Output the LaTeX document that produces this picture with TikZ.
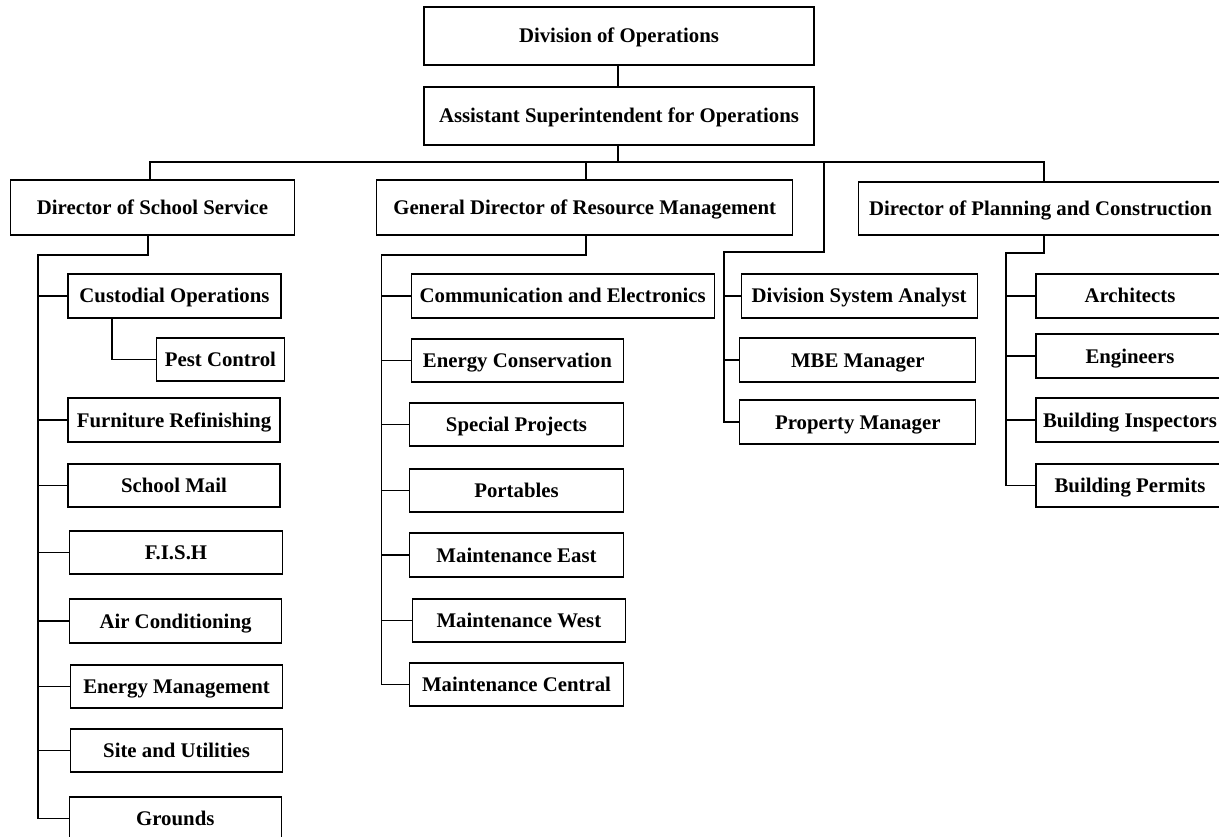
\documentclass[tikz,border=0pt]{standalone}
\usepackage{fontspec}
\setmainfont{Liberation Serif}
\begin{document}
\begin{tikzpicture}[x=1pt,y=-1pt,
  unit/.style={draw=black, line width=1.1pt, fill=white, inner sep=0pt,
    font=\bfseries\fontsize{20.8}{24}\selectfont,
    text height=14pt, text depth=0pt,
    minimum height=44pt},
  link/.style={draw=black, line width=1.6pt, line join=miter}]

\useasboundingbox (0,0) rectangle (1219,837);
\clip (0,0) rectangle (1219,837);

% top of the chart
\node[unit, minimum width=390pt, minimum height=58pt] (div)  at (619,36)  {Division of Operations};
\node[unit, minimum width=390pt, minimum height=58pt] (asst) at (619,116) {Assistant Superintendent for Operations};

% directors
\node[unit, minimum width=284pt, minimum height=55pt] (dss)  at (152.5,207.5) {Director of School Service};
\node[unit, minimum width=416pt, minimum height=55pt] (gdrm) at (584.7,207.5) {General Director of Resource Management};
\node[unit, minimum width=364pt, minimum height=53pt] (dpc)  at (1040.5,208.5) {Director of Planning and Construction};

% school service units
\node[unit, minimum width=213pt] (cust) at (174.5,296) {Custodial Operations};
\node[unit, minimum width=128pt, minimum height=43pt] (pest) at (220.4,359.5) {Pest Control};
\node[unit, minimum width=212pt] (furn) at (174,420) {Furniture Refinishing};
\node[unit, minimum width=212pt, minimum height=43pt] (mail) at (174,485.5) {School Mail};
\node[unit, minimum width=213pt, minimum height=43pt] (fish) at (176,552.5) {F.I.S.H};
\node[unit, minimum width=212pt] (air)  at (175.5,621) {Air Conditioning};
\node[unit, minimum width=212pt, minimum height=43pt] (enm)  at (176.6,686.5) {Energy Management};
\node[unit, minimum width=212pt, minimum height=43pt] (site) at (176.6,750.5) {Site and Utilities};
\node[unit, minimum width=212pt, minimum height=43pt] (grnd) at (175.3,818.5) {Grounds};

% resource management units
\node[unit, minimum width=303pt] (comm)  at (562.7,296) {Communication and Electronics};
\node[unit, minimum width=212pt, minimum height=43pt] (econ)  at (517.4,360.5) {Energy Conservation};
\node[unit, minimum width=214pt, minimum height=43pt] (spec)  at (516.5,424.5) {Special Projects};
\node[unit, minimum width=214pt, minimum height=43pt] (port)  at (516.5,490.5) {Portables};
\node[unit, minimum width=214pt] (meast) at (516.5,555) {Maintenance East};
\node[unit, minimum width=213pt, minimum height=43pt] (mwest) at (518.9,620.5) {Maintenance West};
\node[unit, minimum width=214pt, minimum height=43pt] (mcent) at (516.5,684.5) {Maintenance Central};

% staff reporting to the assistant superintendent
\node[unit, minimum width=236pt] (dsa)   at (859.2,296) {Division System Analyst};
\node[unit, minimum width=236pt] (mbe)   at (857.8,360) {MBE Manager};
\node[unit, minimum width=236pt] (propm) at (857.8,422) {Property Manager};

% planning and construction units
\node[unit, minimum width=188pt] (arch)  at (1130,296) {Architects};
\node[unit, minimum width=188pt] (eng)   at (1130,356) {Engineers};
\node[unit, minimum width=188pt] (binsp) at (1130,420) {Building Inspectors};
\node[unit, minimum width=188pt, minimum height=43pt] (bperm) at (1130,485.5) {Building Permits};

% column positions of the connector lines
\coordinate (cTop) at (618,0);
\coordinate (bus)  at (0,162);
\coordinate (cSS)  at (150,0);
\coordinate (cGD)  at (586,0);
\coordinate (cMid) at (824.2,0);
\coordinate (cPC)  at (1044,0);

% top connectors and the main bus
\draw[link] (div.south -| cTop) -- (asst.north -| cTop);
\draw[link] (asst.south -| cTop) -- (cTop |- bus);
\draw[link] (dss.north -| cSS) -- (cSS |- bus) -- (cPC |- bus) -- (dpc.north -| cPC);
\draw[link] (gdrm.north -| cGD) -- (cGD |- bus);

% school service branch
\coordinate (dssDrop) at (148.2,255);
\coordinate (spS)     at (38.1,0);
\coordinate (pestX)   at (111.7,0);
\draw[link] (dss.south -| dssDrop) -- (dssDrop) -- (spS |- dssDrop) -- (spS |- grnd.west) -- (grnd.west);
\foreach \n in {cust,furn,mail,fish,air,enm,site}
  \draw[link] (spS |- \n.west) -- (\n.west);
\draw[link] (cust.south -| pestX) -- (pestX |- pest.west) -- (pest.west);

% resource management branch
\coordinate (gdDrop) at (586,255);
\coordinate (spG)    at (381.3,0);
\draw[link] (gdrm.south -| gdDrop) -- (gdDrop) -- (spG |- gdDrop) -- (spG |- mcent.west) -- (mcent.west);
\foreach \n in {comm,econ,spec,port,meast,mwest}
  \draw[link] (spG |- \n.west) -- (\n.west);

% staff branch
\coordinate (midBend) at (0,252);
\coordinate (spM)     at (724.2,0);
\draw[link] (cMid |- bus) -- (cMid |- midBend) -- (spM |- midBend) -- (spM |- propm.west) -- (propm.west);
\foreach \n in {dsa,mbe}
  \draw[link] (spM |- \n.west) -- (\n.west);

% planning and construction branch
\coordinate (pcDrop) at (1044,253);
\coordinate (spP)    at (1005.9,0);
\draw[link] (dpc.south -| pcDrop) -- (pcDrop) -- (spP |- pcDrop) -- (spP |- bperm.west) -- (bperm.west);
\foreach \n in {arch,eng,binsp}
  \draw[link] (spP |- \n.west) -- (\n.west);

\end{tikzpicture}
\end{document}
